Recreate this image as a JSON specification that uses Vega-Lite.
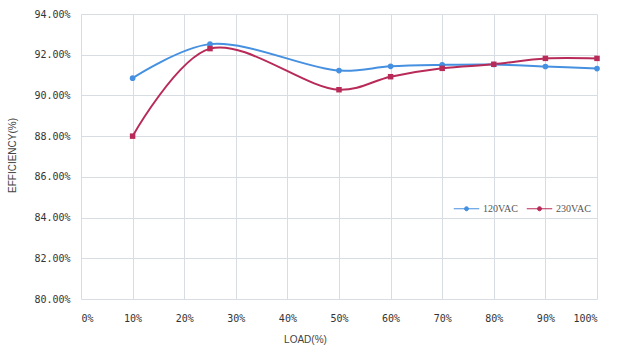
{
  "$schema": "https://vega.github.io/schema/vega-lite/v6.json",
  "width": 516,
  "height": 285,
  "autosize": {"type": "none"},
  "padding": {"left": 81, "top": 14, "right": 24, "bottom": 56},
  "background": "white",
  "config": {
    "view": {"stroke": null},
    "font": "DejaVu Sans Mono"
  },
  "data": {
    "values": [
      {"load": 10, "eff": 90.85, "series": "120VAC"},
      {"load": 25, "eff": 92.52, "series": "120VAC"},
      {"load": 50, "eff": 91.22, "series": "120VAC"},
      {"load": 60, "eff": 91.43, "series": "120VAC"},
      {"load": 70, "eff": 91.5, "series": "120VAC"},
      {"load": 80, "eff": 91.52, "series": "120VAC"},
      {"load": 90, "eff": 91.42, "series": "120VAC"},
      {"load": 100, "eff": 91.32, "series": "120VAC"},
      {"load": 10, "eff": 88.0, "series": "230VAC"},
      {"load": 25, "eff": 92.3, "series": "230VAC"},
      {"load": 50, "eff": 90.28, "series": "230VAC"},
      {"load": 60, "eff": 90.92, "series": "230VAC"},
      {"load": 70, "eff": 91.33, "series": "230VAC"},
      {"load": 80, "eff": 91.53, "series": "230VAC"},
      {"load": 90, "eff": 91.82, "series": "230VAC"},
      {"load": 100, "eff": 91.82, "series": "230VAC"}
    ]
  },
  "encoding": {
    "x": {
      "field": "load", "type": "quantitative",
      "scale": {"domain": [0, 100], "nice": false},
      "axis": {
        "values": [0, 10, 20, 30, 40, 50, 60, 70, 80, 90, 100],
        "labelExpr": "datum.value + '%'",
        "title": "LOAD(%)",
        "titleFont": "Liberation Sans", "titleFontSize": 10, "titleFontWeight": "normal", "titleColor": "#444",
        "titleX": 224, "titleY": 40, "titleBaseline": "middle",
        "labelFontSize": 10, "labelColor": "#333", "labelPadding": 14,
        "ticks": false, "domain": false,
        "grid": true, "gridColor": "#d8dde3", "gridWidth": 1
      }
    },
    "y": {
      "field": "eff", "type": "quantitative",
      "scale": {"domain": [80, 94], "nice": false, "zero": false},
      "axis": {
        "values": [80, 82, 84, 86, 88, 90, 92, 94],
        "labelExpr": "format(datum.value, '.2f') + '%'",
        "title": "EFFICIENCY(%)",
        "titleFont": "Liberation Sans", "titleFontSize": 10, "titleFontWeight": "normal", "titleColor": "#444",
        "titleX": -69, "titleY": 141, "titleBaseline": "middle",
        "labelFontSize": 10, "labelColor": "#333", "labelPadding": 11,
        "ticks": false, "domain": false,
        "grid": true, "gridColor": "#d8dde3", "gridWidth": 1
      }
    },
    "color": {
      "field": "series", "type": "nominal",
      "scale": {"domain": ["120VAC", "230VAC"], "range": ["#4590e0", "#b82a58"]},
      "legend": {
        "title": null,
        "orient": "none",
        "direction": "horizontal",
        "legendX": 372,
        "legendY": 181,
        "symbolType": "M-1,0H1M0.16,0A0.16,0.16,0,1,1,-0.16,0A0.16,0.16,0,1,1,0.16,0Z",
        "symbolSize": 650,
        "symbolStrokeWidth": 1,
        "labelFont": "Liberation Serif",
        "labelFontSize": 10,
        "labelColor": "#555",
        "columnPadding": 6,
        "labelOffset": 3
      }
    }
  },
  "layer": [
    {"mark": {"type": "line", "interpolate": "catmull-rom", "strokeWidth": 2}},
    {
      "transform": [{"filter": "datum.series == '120VAC'"}],
      "mark": {"type": "point", "filled": true, "size": 32, "opacity": 1, "shape": "circle"}
    },
    {
      "transform": [{"filter": "datum.series == '230VAC'"}],
      "mark": {"type": "point", "filled": true, "size": 30, "opacity": 1, "shape": "square"}
    }
  ]
}
